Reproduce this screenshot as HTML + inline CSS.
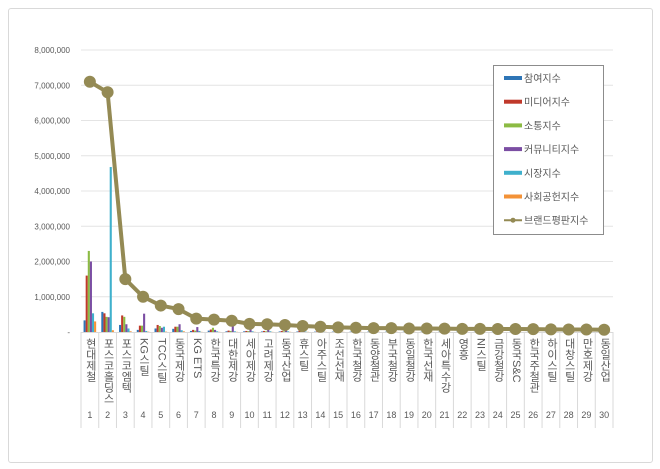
<!DOCTYPE html>
<html><head><meta charset="utf-8"><style>
body{margin:0;background:#fff;width:660px;height:469px;overflow:hidden;font-family:"Liberation Sans","Noto Sans CJK KR",sans-serif;}
#frame{position:absolute;left:8px;top:8px;width:643px;height:453px;border:1px solid #d9d9d9;border-radius:3px;}
.lbl{position:absolute;top:338px;writing-mode:vertical-rl;text-orientation:mixed;font-size:11px;color:#595959;letter-spacing:0px;line-height:17px;width:17px;text-align:start;}
.num{position:absolute;top:410px;font-size:9px;color:#595959;width:17px;text-align:center;}
</style></head><body>
<div id="frame"></div>
<svg id="chart" width="660" height="469" style="position:absolute;left:0;top:0"></svg>
<div id="labels"></div>
<script>
const categories=["현대제철","포스코홀딩스","포스코엠텍","KG스틸","TCC스틸","동국제강","KG ETS","한국특강","대한제강","세아제강","고려제강","동국산업","휴스틸","아주스틸","조선선재","한국철강","동양철관","부국철강","동일철강","한국선재","세아특수강","영흥","NI스틸","금강철강","동국S&C","한국주철관","하이스틸","대창스틸","만호제강","동일산업"];
const participation=[330000,570000,200000,60000,100000,90000,30000,40000,20000,20000,15000,15000,15000,10000,10000,10000,10000,8000,8000,8000,8000,6000,6000,6000,6000,5000,5000,5000,5000,5000];
const media=[1600000,530000,470000,180000,200000,150000,60000,70000,40000,30000,30000,30000,40000,20000,20000,20000,20000,15000,15000,15000,15000,12000,12000,12000,12000,10000,10000,10000,10000,10000];
const communication=[2300000,430000,430000,180000,170000,150000,40000,120000,30000,25000,20000,20000,20000,15000,15000,15000,15000,12000,12000,12000,12000,10000,10000,10000,10000,8000,8000,8000,8000,8000];
const community=[2000000,420000,220000,520000,120000,220000,140000,60000,230000,80000,70000,90000,40000,40000,40000,40000,40000,40000,30000,30000,30000,30000,30000,30000,30000,20000,20000,20000,20000,20000];
const market=[530000,4680000,100000,30000,150000,50000,30000,20000,20000,20000,20000,20000,10000,10000,10000,10000,10000,10000,10000,10000,10000,10000,10000,10000,10000,10000,10000,10000,10000,10000];
const social=[300000,50000,20000,10000,10000,20000,5000,5000,5000,5000,5000,5000,5000,5000,5000,5000,5000,5000,5000,5000,5000,5000,5000,5000,5000,5000,5000,5000,5000,5000];
const brand=[7100000,6800000,1500000,1000000,750000,650000,380000,350000,320000,230000,220000,200000,170000,150000,130000,120000,110000,110000,100000,100000,95000,90000,90000,85000,85000,80000,75000,70000,70000,65000];
const yTicks=[0,1000000,2000000,3000000,4000000,5000000,6000000,7000000,8000000];
const seriesNames=["참여지수","미디어지수","소통지수","커뮤니티지수","시장지수","사회공헌지수"];
const colors=["#2e75b6","#c0392b","#8cbb44","#7b4ea3","#3fb0cc","#f39237"];
const lineColor="#948a54";
const NS="http://www.w3.org/2000/svg";
const svg=document.getElementById('chart');
const X0=81,X1=613,Y0=332,Y1=50,MAX=8000000;
const cw=(X1-X0)/categories.length;
const y=v=>Y0-(v/MAX)*(Y0-Y1);
const xc=i=>X0+cw*(i+0.5);
function mk(t,a){const e=document.createElementNS(NS,t);for(const k in a)e.setAttribute(k,a[k]);svg.appendChild(e);return e;}
yTicks.forEach((t,i)=>{
 if(t>0){const g=mk('line',{x1:X0,x2:X1,y1:y(t),y2:y(t),stroke:'#e4e4e4','stroke-width':1});
 
 }
 const tx=mk('text',{x:70,y:y(t)+3,'text-anchor':'end','font-size':8,fill:'#595959'});
 tx.textContent=t===0?'-':t.toLocaleString('en-US');
 
 
});
const ax=mk('line',{x1:X0,x2:X1,y1:Y0+0.5,y2:Y0+0.5,stroke:'#d9d9d9'});


for(let i=0;i<=categories.length;i++){
 const l=mk('line',{x1:X0+cw*i,x2:X0+cw*i,y1:Y0,y2:428,stroke:'#d9d9d9'});
 
 
}
const series=[participation,media,communication,community,market,social];
const bw=2.1;
series.forEach((s,si)=>{
 s.forEach((v,i)=>{
  const bx=xc(i)-3*bw+si*bw;
  const r=mk('rect',{x:bx,y:y(v),width:bw,height:Y0-y(v),fill:colors[si]});
  
  
 });
});
const pts=brand.map((v,i)=>xc(i)+','+y(v)).join(' ');
const pl=mk('polyline',{points:pts,fill:'none',stroke:lineColor,'stroke-width':4,'stroke-linejoin':'round'});


brand.forEach((v,i)=>{
 const c=mk('circle',{cx:xc(i),cy:y(v),r:6,fill:lineColor});
 
 
});
const lab=document.getElementById('labels');
categories.forEach((c,i)=>{
 const d=document.createElement('div');d.className='lbl';d.style.left=(xc(i)-8.5)+'px';d.textContent=c;
 
 
 lab.appendChild(d);
 const n=document.createElement('div');n.className='num';n.style.left=(xc(i)-8.5)+'px';n.textContent=i+1;
 
 
 lab.appendChild(n);
});
const lg=mk('rect',{x:493.5,y:65.5,width:110,height:169,fill:'#fff',stroke:'#8c8c8c'});


const names=seriesNames.concat(['브랜드평판지수']);
names.forEach((n,i)=>{
 const yy=78+i*23.7;
 if(i<6){const r=mk('rect',{x:504,y:yy-2,width:18,height:4,fill:colors[i]});
  
  }
 else{const l=mk('line',{x1:504,x2:522,y1:yy,y2:yy,stroke:lineColor,'stroke-width':2});
  
  
  const c=mk('circle',{cx:513,cy:yy,r:2.5,fill:lineColor});
  
  }
 const t=mk('text',{x:524,y:yy+4,'font-size':10,fill:'#595959'});
 t.textContent=n;
 
 
});
</script>
</body></html>
